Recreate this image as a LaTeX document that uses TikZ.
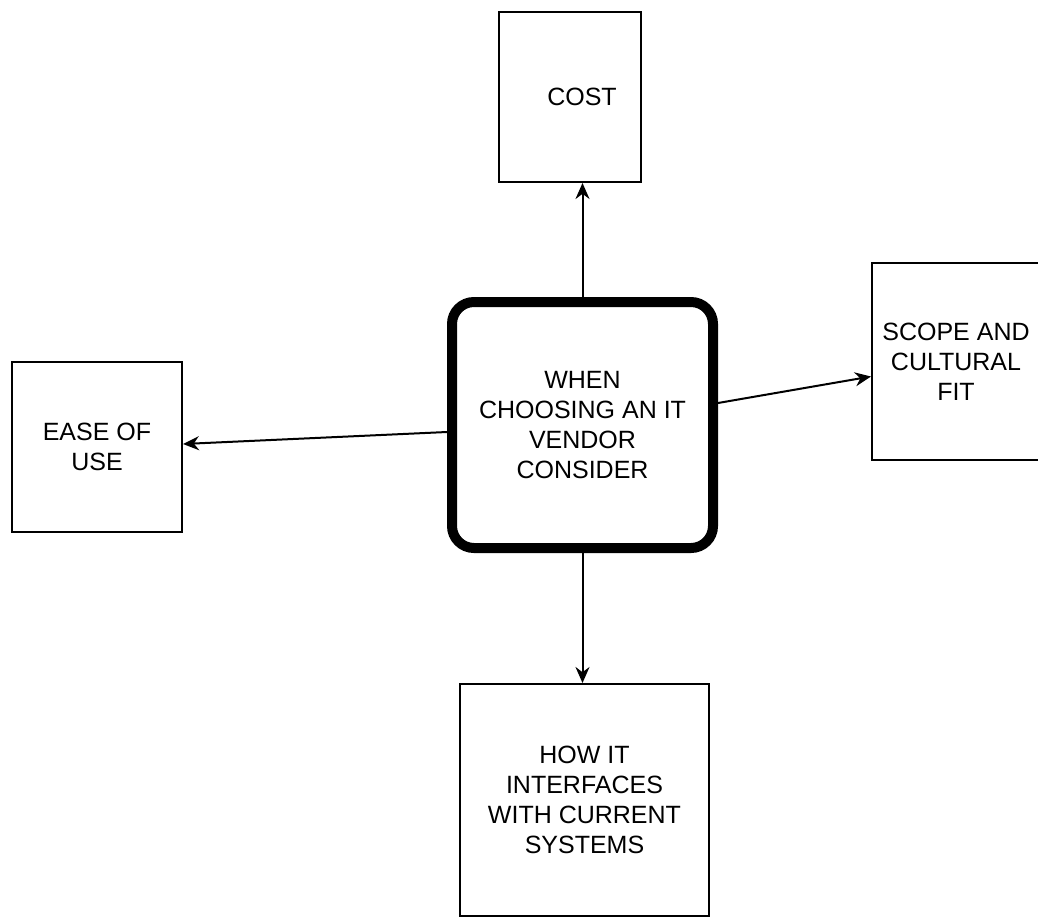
\documentclass[tikz,border=0pt]{standalone}
\usepackage{fontspec}
\setmainfont{Liberation Sans}
\usepackage{tikz}
\usetikzlibrary{arrows.meta}

\begin{document}
\begin{tikzpicture}[%
    x=0.5pt,
    y=-0.5pt,
    >={Stealth[length=8pt,width=7pt]},
    every node/.style={font=\fontsize{12.5}{15}\selectfont},
    factor/.style={%
      rectangle,
      draw,
      line width=1pt,
      align=center,
      inner sep=2pt
    },
    hub/.style={%
      rectangle,
      rounded corners=11pt,
      draw,
      line width=5pt,
      align=center,
      minimum width=130.5pt,
      minimum height=123pt
    },
    link/.style={->, line width=1pt}
  ]
    \useasboundingbox (0,0) rectangle (1038,920);

    \node[hub] (ctr) at (582.5,425) {WHEN\\CHOOSING AN IT\\VENDOR\\CONSIDER};
    \node[factor, minimum width=71pt, minimum height=85pt] (cost) at (570,97) {\hspace*{12pt}COST};
    \node[factor, minimum width=84pt, minimum height=98.5pt] (scope) at (956,361.5) {SCOPE AND\\CULTURAL\\FIT};
    \node[factor, minimum width=85pt, minimum height=85pt] (ease) at (97,447) {EASE OF\\USE};
    \node[factor, minimum width=124.5pt, minimum height=116pt] (how) at (584.5,800) {HOW IT\\INTERFACES\\WITH CURRENT\\SYSTEMS};

    \draw[link] (ctr.north) -- (ctr.north |- cost.south);
    \draw[link] ([yshift=11pt]ctr.east) -- ([yshift=-7.5pt]scope.west);
    \draw[link] ([yshift=-3.5pt]ctr.west) -- ([yshift=1.5pt]ease.east);
    \draw[link] (ctr.south) -- (ctr.south |- how.north);
\end{tikzpicture}
\end{document}
